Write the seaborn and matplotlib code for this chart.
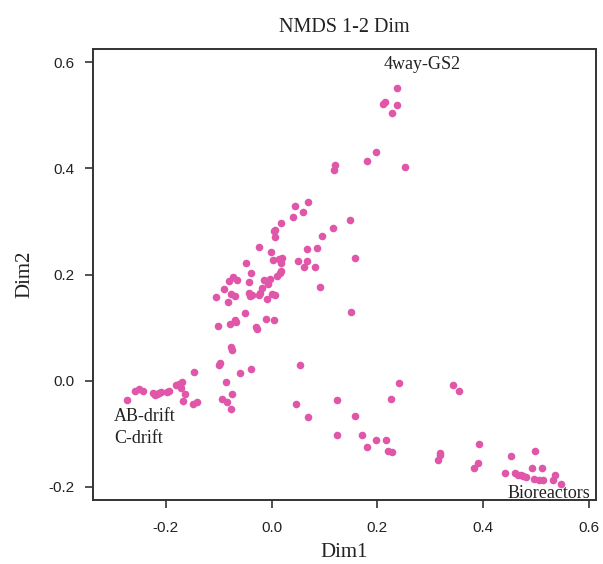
import numpy as np
import matplotlib
matplotlib.use("Agg")
import matplotlib.pyplot as plt
import seaborn as sns
import pandas as pd

sns.set_style("white")
plt.rcParams["font.family"] = ["Liberation Sans", "DejaVu Sans"]

# NMDS site scores
dim1 = [
    0.238, 0.211, 0.214, 0.237, 0.228, 0.197, 0.180, 0.253, 0.119, 0.118,
    0.069, 0.059, 0.149, 0.116, 0.096, 0.067, 0.086, 0.157, 0.067, 0.061,
    0.083, 0.050, 0.045, 0.040, 0.018, 0.004, 0.006, 0.007, -0.023, -0.001,
    0.002, 0.014, 0.019, 0.018, -0.048, -0.039, 0.018, 0.016, 0.011, -0.080,
    -0.073, -0.065, -0.014, -0.003, -0.006, 0.091, -0.043, -0.090, -0.018, -0.021,
    -0.023, -0.042, -0.041, -0.038, -0.076, -0.069, 0.001, 0.007, -0.105, -0.082,
    -0.009, -0.051, -0.010, 0.004, -0.070, -0.067, -0.078, -0.101, -0.029, -0.028,
    0.150, -0.076, -0.074, -0.098, -0.100, -0.146, -0.039, -0.059, 0.054, -0.086,
    -0.169, -0.175, -0.180, -0.172, -0.194, -0.197, -0.209, -0.213, -0.217, -0.224,
    -0.220, -0.243, -0.250, -0.259, -0.274, -0.164, -0.168, -0.149, -0.141, -0.093,
    -0.085, -0.075, -0.076, 0.124, 0.047, 0.069, 0.124, 0.241, 0.226, 0.158,
    0.171, 0.181, 0.198, 0.216, 0.221, 0.227, 0.343, 0.355, 0.318, 0.318,
    0.314, 0.393, 0.390, 0.382, 0.452, 0.498, 0.442, 0.461, 0.466, 0.471,
    0.476, 0.481, 0.493, 0.512, 0.497, 0.505, 0.513, 0.535, 0.532, 0.547,
]
dim2 = [
    0.552, 0.522, 0.525, 0.519, 0.505, 0.431, 0.414, 0.402, 0.406, 0.397,
    0.337, 0.317, 0.303, 0.288, 0.273, 0.249, 0.250, 0.231, 0.226, 0.214,
    0.215, 0.226, 0.330, 0.308, 0.298, 0.282, 0.284, 0.270, 0.251, 0.242,
    0.228, 0.229, 0.231, 0.222, 0.222, 0.202, 0.207, 0.202, 0.198, 0.188,
    0.195, 0.190, 0.190, 0.191, 0.182, 0.176, 0.185, 0.173, 0.174, 0.165,
    0.162, 0.165, 0.159, 0.162, 0.163, 0.159, 0.163, 0.162, 0.158, 0.148,
    0.154, 0.127, 0.117, 0.115, 0.115, 0.110, 0.106, 0.103, 0.102, 0.098,
    0.130, 0.063, 0.058, 0.034, 0.030, 0.016, 0.022, 0.014, 0.029, -0.003,
    -0.003, -0.007, -0.009, -0.014, -0.019, -0.021, -0.022, -0.024, -0.026, -0.024,
    -0.027, -0.020, -0.015, -0.020, -0.037, -0.026, -0.039, -0.044, -0.041, -0.034,
    -0.040, -0.026, -0.053, -0.036, -0.045, -0.068, -0.103, -0.005, -0.034, -0.067,
    -0.103, -0.125, -0.111, -0.112, -0.132, -0.134, -0.008, -0.019, -0.136, -0.141,
    -0.150, -0.119, -0.156, -0.164, -0.142, -0.132, -0.175, -0.175, -0.177, -0.178,
    -0.180, -0.182, -0.165, -0.165, -0.185, -0.187, -0.188, -0.178, -0.188, -0.195,
]

group_names = ["4way-GS2", "AB-drift", "C-drift", "Bioreactors"]
group_x = [0.285, -0.298, -0.298, 0.603]
group_y = [0.587, -0.076, -0.118, -0.221]

xticks = [-0.2, 0.0, 0.2, 0.4, 0.6]
yticks = [-0.2, 0.0, 0.2, 0.4, 0.6]

df = pd.DataFrame({"Dim1": dim1, "Dim2": dim2})

fig = plt.figure(figsize=(6.03, 5.64), dpi=100)
ax = fig.add_axes([0.154, 0.1135, 0.834, 0.7995])

sns.scatterplot(data=df, x="Dim1", y="Dim2", color="#E056A9", s=30,
                linewidth=0, ax=ax)

ax.set_xlim(-0.338, 0.613)
ax.set_ylim(-0.225, 0.625)
ax.set_xticks(xticks)
ax.set_yticks(yticks)
ax.set_xticklabels([f"{t:.1f}" for t in xticks])
ax.set_yticklabels([f"{t:.1f}" for t in yticks])
ax.tick_params(axis="both", bottom=True, left=True, direction="out", length=6,
               width=1.2, colors="#333333", labelsize=11, labelcolor="#222222")
ax.tick_params(axis="x", pad=9)
ax.tick_params(axis="y", pad=7)
for sp in ax.spines.values():
    sp.set_linewidth(1.4)
    sp.set_color("#333333")

serif = ["Liberation Serif", "DejaVu Serif"]
ax.set_xlabel("Dim1", family=serif, fontsize=15, labelpad=6, color="#222222")
ax.set_ylabel("Dim2", family=serif, fontsize=15, labelpad=10, color="#222222")
ax.set_title("NMDS 1-2 Dim", family=serif, fontsize=14.5, pad=12, color="#222222")

for name, gx, gy in zip(group_names, group_x, group_y):
    ha = "right" if name == "Bioreactors" else ("center" if name == "4way-GS2" else "left")
    ax.text(gx, gy, name, family=serif, fontsize=13, ha=ha, va="baseline",
            color="#222222")

fig.savefig("out.png", dpi=100)
